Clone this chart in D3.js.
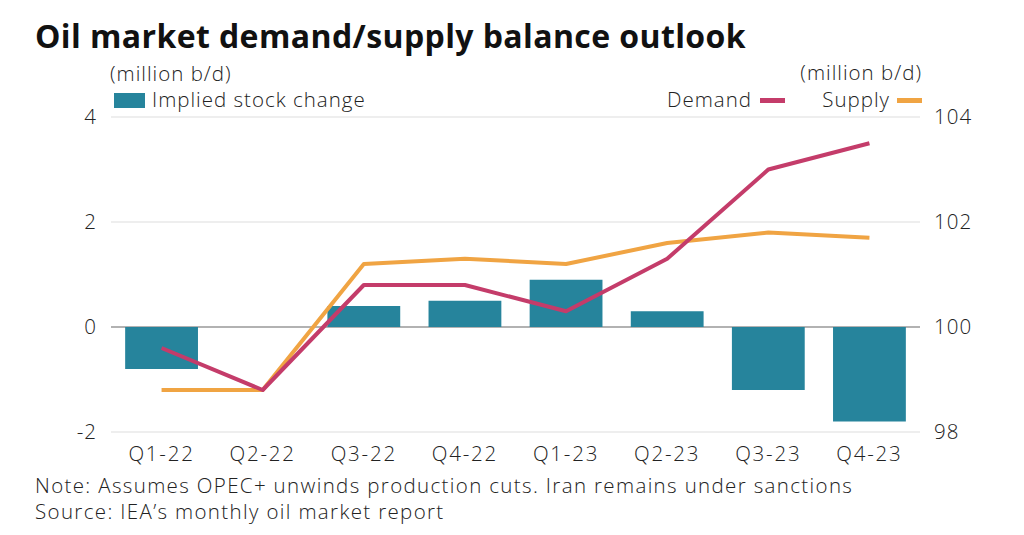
<!DOCTYPE html>
<html><head><meta charset="utf-8">
<script src="https://cdn.jsdelivr.net/npm/d3@7"></script>
<style>
body{margin:0;background:#fff;}
svg text{font-family:"Open Sans",sans-serif;fill:#222;}
</style></head>
<body><svg id="c" width="1024" height="535"></svg>
<script>
const categories = ["Q1-22","Q2-22","Q3-22","Q4-22","Q1-23","Q2-23","Q3-23","Q4-23"];
const stockChange = [-0.8, 0, 0.4, 0.5, 0.9, 0.3, -1.2, -1.8];
const demand = [99.6, 98.8, 100.8, 100.8, 100.3, 101.3, 103.0, 103.5];
const supply = [98.8, 98.8, 101.2, 101.3, 101.2, 101.6, 101.8, 101.7];
const leftTicks = [-2, 0, 2, 4];
const rightTicks = [98, 100, 102, 104];

const FONT = "'Open Sans',sans-serif";
const svg = d3.select("#c");
const L = 111, R = 920, T = 117, B = 432;
const x = d3.scaleBand().domain(categories).range([L, R]).paddingInner(0.28).paddingOuter(0.14);
const yL = d3.scaleLinear().domain([-2, 4]).range([B, T]);
const yR = d3.scaleLinear().domain([98, 104]).range([B, T]);

function txt(sel){ return sel.style("font-size","20.5px").style("font-weight","300").style("font-family",FONT).attr("fill","#222").style("letter-spacing","1px"); }

// title
svg.append("text").attr("x", 35).attr("y", 48).style("font-size", "32px").style("font-weight", "700").style("fill", "#111")
  .style("font-family", FONT).style("letter-spacing", "0.4px").text("Oil market demand/supply balance outlook");

// gridlines
svg.append("g").selectAll("line").data(leftTicks).join("line")
  .attr("x1", L).attr("x2", R).attr("y1", d => yL(d)).attr("y2", d => yL(d))
  .attr("stroke", d => d === 0 ? "#999" : "#ddd").attr("stroke-width", d => d === 0 ? 1.5 : 1);

// left axis
const axL = svg.append("g").attr("transform", `translate(${L},0)`)
  .call(d3.axisLeft(yL).tickValues(leftTicks).tickSize(0).tickPadding(14).tickFormat(d => d < 0 ? "-" + Math.abs(d) : String(d)));
axL.select(".domain").remove();
txt(axL.selectAll("text"));

// right axis
const axR = svg.append("g").attr("transform", `translate(${R},0)`)
  .call(d3.axisRight(yR).tickValues(rightTicks).tickSize(0).tickPadding(14).tickFormat(d3.format("d")));
axR.select(".domain").remove();
txt(axR.selectAll("text"));

// bottom axis
const axB = svg.append("g").attr("transform", `translate(0,${B})`)
  .call(d3.axisBottom(x).tickSize(0).tickPadding(14));
axB.select(".domain").remove();
txt(axB.selectAll("text")).style("letter-spacing", "1.8px");

// bars
svg.append("g").selectAll("rect").data(categories).join("rect")
  .attr("x", d => x(d)).attr("width", x.bandwidth())
  .attr("y", (d, i) => yL(Math.max(0, stockChange[i])))
  .attr("height", (d, i) => Math.abs(yL(stockChange[i]) - yL(0)))
  .attr("fill", "#26849c");

// lines
const line = d3.line().x((d, i) => x(categories[i]) + x.bandwidth() / 2).y(d => yR(d));
svg.append("path").datum(supply).attr("d", line).attr("fill", "none").attr("stroke", "#f0a443").attr("stroke-width", 4).attr("stroke-linejoin", "round");
svg.append("path").datum(demand).attr("d", line).attr("fill", "none").attr("stroke", "#c43c6a").attr("stroke-width", 4).attr("stroke-linejoin", "round");

// unit labels
txt(svg.append("text").attr("x", 110).attr("y", 81)).text("(million b/d)");
txt(svg.append("text").attr("x", 922).attr("y", 80).attr("text-anchor", "end")).text("(million b/d)");

// legend
svg.append("rect").attr("x", 114).attr("y", 93).attr("width", 31).attr("height", 15).attr("fill", "#26849c");
txt(svg.append("text").attr("x", 152).attr("y", 107)).text("Implied stock change");
txt(svg.append("text").attr("x", 752).attr("y", 107).attr("text-anchor", "end")).text("Demand");
svg.append("rect").attr("x", 760).attr("y", 98).attr("width", 25).attr("height", 5).attr("fill", "#c43c6a");
txt(svg.append("text").attr("x", 890).attr("y", 107).attr("text-anchor", "end")).text("Supply");
svg.append("rect").attr("x", 897).attr("y", 98).attr("width", 25).attr("height", 5).attr("fill", "#f0a443");

// notes
txt(svg.append("text").attr("x", 35).attr("y", 493)).style("letter-spacing", "1.35px").text("Note: Assumes OPEC+ unwinds production cuts. Iran remains under sanctions");
txt(svg.append("text").attr("x", 35).attr("y", 519)).style("letter-spacing", "1.35px").text("Source: IEA\u2019s monthly oil market report");
</script></body></html>
